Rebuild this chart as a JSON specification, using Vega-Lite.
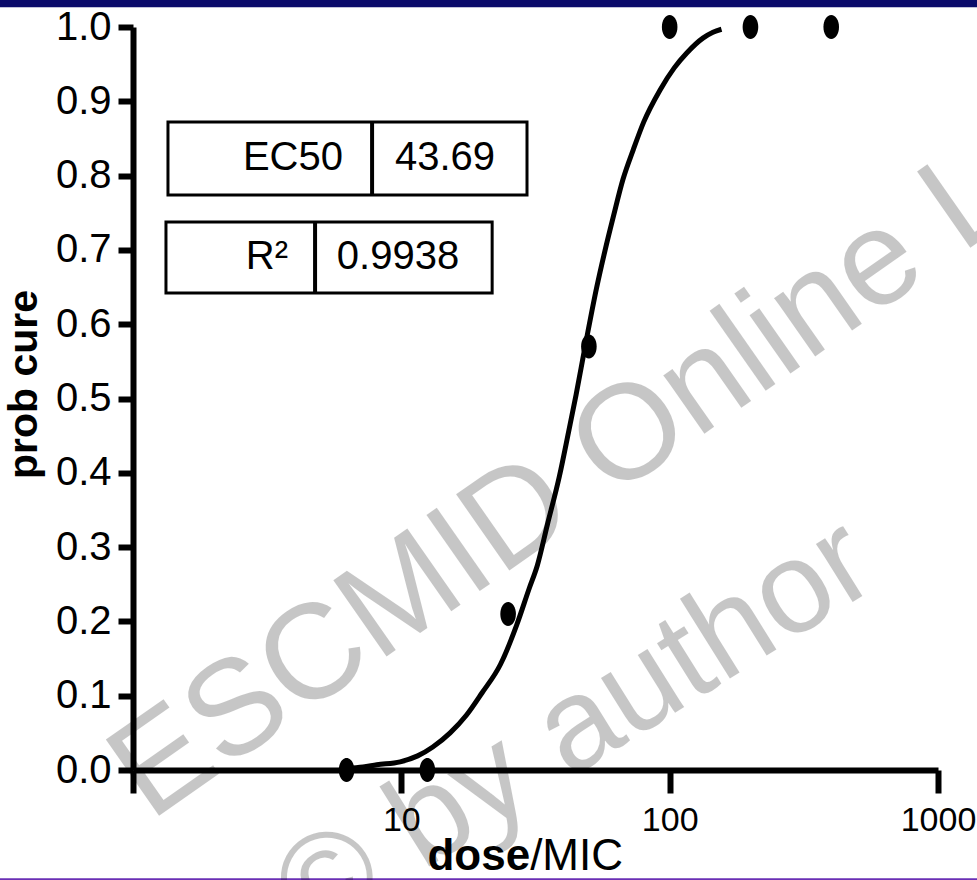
{
  "$schema": "https://vega.github.io/schema/vega-lite/v6.json",
  "width": 805,
  "height": 743,
  "autosize": {"type": "none"},
  "padding": {"left": 133, "top": 27, "right": 39, "bottom": 110},
  "background": "white",
  "config": {"view": {"stroke": null}, "font": "Liberation Sans"},
  "datasets": {
    "bands": [
      {"band": "top", "x": 0.3, "x2": 1500, "y": 1.0265, "y2": 1.06},
      {"band": "bottom", "x": 0.3, "x2": 1500, "y": -0.1456, "y2": -0.16}
    ],
    "boxes": [
      {"x": 1.35, "x2": 29.4, "y": 0.774, "y2": 0.872},
      {"x": 1.327, "x2": 21.8, "y": 0.642, "y2": 0.7376}
    ],
    "dividers": [
      {"x": 7.78, "y": 0.774, "y2": 0.872},
      {"x": 4.77, "y": 0.642, "y2": 0.7376}
    ],
    "cells": [
      {"text": "EC50", "kind": "label", "x": 6.06, "y": 0.8237},
      {"text": "43.69", "kind": "value", "x": 14.55, "y": 0.8237},
      {"text": "R²", "kind": "label", "x": 3.78, "y": 0.6898},
      {"text": "0.9938", "kind": "value", "x": 9.72, "y": 0.6898}
    ],
    "fit": [
      {"x": 6.25, "y": 0.002}, {"x": 7.2, "y": 0.004}, {"x": 8.1, "y": 0.007},
      {"x": 9.9, "y": 0.011}, {"x": 11.5, "y": 0.019}, {"x": 13.1, "y": 0.031},
      {"x": 15.2, "y": 0.05}, {"x": 17.5, "y": 0.074}, {"x": 20, "y": 0.104},
      {"x": 23.4, "y": 0.142}, {"x": 26.9, "y": 0.195}, {"x": 30, "y": 0.245},
      {"x": 32.1, "y": 0.275}, {"x": 35, "y": 0.33}, {"x": 38.8, "y": 0.395},
      {"x": 42, "y": 0.455}, {"x": 44.8, "y": 0.505}, {"x": 48.4, "y": 0.57},
      {"x": 53.5, "y": 0.65}, {"x": 57.5, "y": 0.7}, {"x": 61.7, "y": 0.745},
      {"x": 67, "y": 0.795}, {"x": 73.2, "y": 0.835}, {"x": 80, "y": 0.872},
      {"x": 92, "y": 0.915}, {"x": 104, "y": 0.945}, {"x": 115.8, "y": 0.965},
      {"x": 133, "y": 0.985}, {"x": 145, "y": 0.993}, {"x": 156, "y": 0.997}
    ],
    "obs": [
      {"x": 6.25, "y": 0}, {"x": 12.5, "y": 0}, {"x": 25, "y": 0.21},
      {"x": 50, "y": 0.57}, {"x": 100, "y": 1}, {"x": 200, "y": 1}, {"x": 400, "y": 1}
    ],
    "xtitle": [
      {"text": "dose", "x": 30.2, "y": -0.1346},
      {"text": "/MIC", "x": 30.2, "y": -0.1346}
    ],
    "wm": [
      {"text": "ESCMID Online Lecture Library", "x": 1.157, "y": -0.07},
      {"text": "© by author", "x": 4.57, "y": -0.23}
    ]
  },
  "encoding": {
    "x": {
      "field": "x", "type": "quantitative",
      "scale": {"type": "log", "domain": [1, 1000], "nice": false},
      "axis": {
        "values": [1, 10, 100, 1000],
        "labelExpr": "datum.value < 2 ? '' : format(datum.value, 'd')",
        "title": null, "grid": false,
        "domainColor": "black", "domainWidth": 6,
        "tickColor": "black", "tickWidth": 6, "tickSize": 23,
        "labelFont": "Liberation Sans", "labelFontSize": 34, "labelColor": "black",
        "labelPadding": 10, "labelFlush": false, "labelOverlap": false
      }
    },
    "y": {
      "field": "y", "type": "quantitative",
      "scale": {"domain": [0, 1], "nice": false, "zero": false},
      "axis": {
        "values": [0, 0.1, 0.2, 0.3, 0.4, 0.5, 0.6, 0.7, 0.8, 0.9, 1.0],
        "format": ".1f", "grid": false,
        "domainColor": "black", "domainWidth": 6,
        "tickColor": "black", "tickWidth": 6, "tickSize": 15,
        "labelFont": "Liberation Sans", "labelFontSize": 40, "labelColor": "black",
        "labelPadding": 7, "labelFlush": false, "labelOverlap": false,
        "title": "prob cure", "titleFont": "Liberation Sans", "titleFontWeight": "bold",
        "titleFontSize": 41, "titleColor": "black", "titleAngle": -90,
        "titleX": -97, "titleY": 357, "titleAlign": "center", "titleBaseline": "alphabetic"
      }
    }
  },
  "layer": [
    {
      "data": {"name": "bands"},
      "mark": {"type": "rect"},
      "encoding": {
        "x2": {"field": "x2"},
        "y2": {"field": "y2"},
        "color": {"field": "band", "type": "nominal", "scale": {"domain": ["top", "bottom"], "range": ["#0b0b6b", "#6a2fb5"]}, "legend": null}
      }
    },
    {
      "data": {"name": "boxes"},
      "mark": {"type": "rect", "fill": "white", "stroke": "black", "strokeWidth": 3},
      "encoding": {"x2": {"field": "x2"}, "y2": {"field": "y2"}}
    },
    {
      "data": {"name": "dividers"},
      "mark": {"type": "rule", "color": "black", "strokeWidth": 4},
      "encoding": {"y2": {"field": "y2"}}
    },
    {
      "data": {"name": "cells"},
      "transform": [{"filter": "datum.kind == 'label'"}],
      "mark": {"type": "text", "align": "right", "baseline": "middle", "fontSize": 40, "font": "Liberation Sans", "color": "black"},
      "encoding": {"text": {"field": "text"}}
    },
    {
      "data": {"name": "cells"},
      "transform": [{"filter": "datum.kind == 'value'"}],
      "mark": {"type": "text", "align": "center", "baseline": "middle", "fontSize": 40, "font": "Liberation Sans", "color": "black"},
      "encoding": {"text": {"field": "text"}}
    },
    {
      "data": {"name": "fit"},
      "mark": {"type": "line", "color": "black", "strokeWidth": 5, "interpolate": "monotone"},
      "encoding": {}
    },
    {
      "data": {"name": "obs"},
      "mark": {"type": "point", "filled": true, "color": "black", "opacity": 1, "size": 576, "shape": "M0,-1A0.65,1,0,1,1,0,1A0.65,1,0,1,1,0,-1Z"},
      "encoding": {}
    },
    {
      "data": {"name": "xtitle"},
      "transform": [{"filter": "datum.text == 'dose'"}],
      "mark": {"type": "text", "align": "right", "baseline": "alphabetic", "fontSize": 44, "font": "Liberation Sans", "fontWeight": "bold", "color": "black"},
      "encoding": {"text": {"field": "text"}}
    },
    {
      "data": {"name": "xtitle"},
      "transform": [{"filter": "datum.text == '/MIC'"}],
      "mark": {"type": "text", "align": "left", "baseline": "alphabetic", "fontSize": 44, "font": "Liberation Sans", "color": "black"},
      "encoding": {"text": {"field": "text"}}
    },
    {
      "data": {"name": "wm"},
      "transform": [{"filter": "datum.text != '© by author'"}],
      "mark": {"type": "text", "align": "left", "baseline": "alphabetic", "fontSize": 135, "font": "Liberation Sans", "angle": -35, "color": "black", "opacity": 0.22},
      "encoding": {"text": {"field": "text"}}
    },
    {
      "data": {"name": "wm"},
      "transform": [{"filter": "datum.text == '© by author'"}],
      "mark": {"type": "text", "align": "left", "baseline": "alphabetic", "fontSize": 130, "font": "Liberation Sans", "angle": -32, "color": "black", "opacity": 0.22},
      "encoding": {"text": {"field": "text"}}
    }
  ]
}
